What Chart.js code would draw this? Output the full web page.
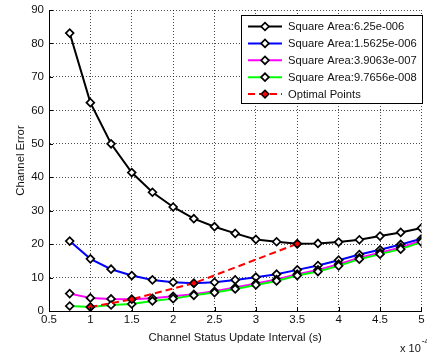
<!DOCTYPE html>
<html>
<head>
<meta charset="utf-8">
<script src="https://cdn.jsdelivr.net/npm/chart.js@4/dist/chart.umd.min.js"></script>
<style>
  html, body { margin: 0; padding: 0; background: #fff; overflow: hidden; }
  #wrap { width: 427px; height: 352px; }
</style>
</head>
<body>
<div id="wrap"><canvas id="c" width="427" height="352"></canvas></div>
<script>
// Channel status update interval (x 10^-4 s)
const intervals = [0.75, 1, 1.25, 1.5, 1.75, 2, 2.25, 2.5, 2.75, 3, 3.25, 3.5, 3.75, 4, 4.25, 4.5, 4.75, 5];

// Channel error per square area
const errArea625e6   = [83.1, 62.3, 50.0, 41.4, 35.5, 31.1, 27.6, 25.2, 23.2, 21.4, 20.7, 20.1, 20.2, 20.6, 21.3, 22.4, 23.5, 24.8];
const errArea15625e6 = [20.9, 15.6, 12.5, 10.6, 9.3, 8.6, 8.3, 8.6, 9.3, 10.1, 11.0, 12.3, 13.6, 15.2, 16.9, 18.3, 19.9, 21.6];
const errArea39063e7 = [5.2, 3.9, 3.6, 3.5, 3.8, 4.4, 5.0, 5.9, 7.0, 8.2, 9.4, 11.0, 12.3, 14.0, 15.9, 17.4, 19.0, 21.0];
const errArea97656e8 = [1.5, 1.2, 1.8, 2.1, 3.0, 3.7, 4.7, 5.5, 6.6, 7.8, 9.0, 10.6, 11.8, 13.5, 15.5, 17.0, 18.5, 20.6];

const seriesNames = [
  'Square Area:6.25e-006',
  'Square Area:1.5625e-006',
  'Square Area:3.9063e-007',
  'Square Area:9.7656e-008',
  'Optimal Points'
];

// Minimum-error interval of each curve
const optimalX = [1, 1.5, 2.25, 3.5];
const optimalY = [1.2, 3.5, 8.3, 20.1];

const xTickLabels = ['0.5', '1', '1.5', '2', '2.5', '3', '3.5', '4', '4.5', '5'];
const yTickLabels = ['0', '10', '20', '30', '40', '50', '60', '70', '80', '90'];
const xExponent = '-4';

// Prefer a narrow sans face when it is installed
function hasFont(name) {
  const c = document.createElement('canvas').getContext('2d');
  const s = 'Square Area 0123456789';
  c.font = '20px monospace';
  const a = c.measureText(s).width;
  c.font = '20px "' + name + '", monospace';
  return Math.abs(c.measureText(s).width - a) > 0.5;
}
const narrow = hasFont('Liberation Sans Narrow');
const FAMILY = narrow ? '"Liberation Sans Narrow", "Liberation Sans", Arial, sans-serif'
                      : '"Liberation Sans", Arial, sans-serif';
const SZ = narrow ? { tick: 12.5, title: 13.5, legend: 13.5, exp: 12, sup: 9 }
                  : { tick: 11.5, title: 11.3, legend: 11.2, exp: 11, sup: 8.5 };
const TEXT = '#111';

function curve(label, ys, color, order) {
  return {
    label,
    data: intervals.map((x, i) => ({ x, y: ys[i] })),
    borderColor: color,
    backgroundColor: color,
    borderWidth: 2,
    tension: 0,
    pointStyle: 'rectRot',
    pointRadius: 3.9,
    pointHoverRadius: 3.9,
    pointBorderWidth: 1.7,
    pointBackgroundColor: '#fff',
    pointBorderColor: '#000',
    order
  };
}

const datasets = [
  curve(seriesNames[0], errArea625e6, '#000000', 5),
  curve(seriesNames[1], errArea15625e6, '#0000ff', 4),
  curve(seriesNames[2], errArea39063e7, '#ff00ff', 3),
  curve(seriesNames[3], errArea97656e8, '#00ff00', 2),
  {
    label: seriesNames[4],
    data: optimalX.map((x, i) => ({ x, y: optimalY[i] })),
    borderColor: '#ff0000',
    backgroundColor: '#ff0000',
    borderWidth: 2,
    borderDash: [7, 4],
    tension: 0,
    pointStyle: 'rectRot',
    pointRadius: 3.9,
    pointHoverRadius: 3.9,
    pointBorderWidth: 1.5,
    pointBackgroundColor: '#ff0000',
    pointBorderColor: '#000',
    order: 1
  }
];

function diamond(ctx, x, y, r, fill, stroke, lw) {
  ctx.beginPath();
  ctx.moveTo(x - r, y);
  ctx.lineTo(x, y - r);
  ctx.lineTo(x + r, y);
  ctx.lineTo(x, y + r);
  ctx.closePath();
  ctx.fillStyle = fill;
  ctx.fill();
  ctx.lineWidth = lw;
  ctx.strokeStyle = stroke;
  ctx.stroke();
}

// Small inward tick marks on the left and bottom axes
const innerTicks = {
  id: 'innerTicks',
  afterDatasetsDraw(chart) {
    const { ctx, chartArea } = chart;
    const xs = chart.scales.x, ys = chart.scales.y;
    ctx.save();
    ctx.strokeStyle = '#000';
    ctx.lineWidth = 1;
    ctx.beginPath();
    xs.ticks.forEach(t => {
      const px = Math.round(xs.getPixelForValue(t.value)) + 0.5;
      ctx.moveTo(px, chartArea.bottom);
      ctx.lineTo(px, chartArea.bottom - 4);
    });
    ys.ticks.forEach(t => {
      const py = Math.round(ys.getPixelForValue(t.value)) + 0.5;
      ctx.moveTo(chartArea.left, py);
      ctx.lineTo(chartArea.left + 4, py);
    });
    ctx.stroke();
    ctx.restore();
  }
};

// Boxed legend inside the plot, top right
const boxLegend = {
  id: 'boxLegend',
  afterDraw(chart) {
    const { ctx } = chart;
    const bx = 241.5, by = 15.5, bw = 181, bh = 88;
    ctx.save();
    ctx.fillStyle = '#fff';
    ctx.fillRect(bx, by, bw, bh);
    ctx.strokeStyle = '#000';
    ctx.lineWidth = 1;
    ctx.strokeRect(bx, by, bw, bh);
    chart.data.datasets.forEach((ds, i) => {
      const cy = 26.5 + i * 16.9;
      ctx.save();
      ctx.strokeStyle = ds.borderColor;
      ctx.lineWidth = 2;
      ctx.setLineDash(ds.borderDash || []);
      ctx.beginPath();
      ctx.moveTo(248, cy);
      ctx.lineTo(282, cy);
      ctx.stroke();
      ctx.restore();
      diamond(ctx, 265, cy, ds.pointRadius, ds.pointBackgroundColor, ds.pointBorderColor, ds.pointBorderWidth);
      ctx.fillStyle = TEXT;
      ctx.font = SZ.legend + 'px ' + FAMILY;
      ctx.textAlign = 'left';
      ctx.textBaseline = 'middle';
      ctx.fillText(ds.label, 288, cy + 0.5);
    });
    ctx.restore();
  }
};

// Power-of-ten multiplier under the x axis
const axisExponent = {
  id: 'axisExponent',
  afterDraw(chart) {
    const { ctx } = chart;
    ctx.save();
    ctx.fillStyle = TEXT;
    ctx.textAlign = 'left';
    ctx.textBaseline = 'alphabetic';
    ctx.font = SZ.exp + 'px ' + FAMILY;
    ctx.fillText('x 10', 400, 352);
    const w = ctx.measureText('x 10').width;
    ctx.font = SZ.sup + 'px ' + FAMILY;
    ctx.fillText(xExponent, 400 + w + 1, 344);
    ctx.restore();
  }
};

const labelFor = (labels) => (v) => labels.find(t => Math.abs(parseFloat(t) - v) < 1e-9) ?? '';

new Chart(document.getElementById('c'), {
  type: 'line',
  data: { datasets },
  options: {
    responsive: false,
    devicePixelRatio: 1,
    animation: false,
    events: [],
    layout: { padding: { top: 10, right: 0, bottom: 0, left: 0 } },
    plugins: { legend: { display: false }, tooltip: { enabled: false } },
    scales: {
      x: {
        type: 'linear',
        min: 0.5,
        max: 5,
        ticks: {
          stepSize: 0.5,
          autoSkip: false,
          maxRotation: 0,
          padding: 2,
          color: TEXT,
          font: { family: FAMILY, size: SZ.tick },
          callback: labelFor(xTickLabels)
        },
        grid: { color: 'rgba(0,0,0,0.7)', lineWidth: 1, drawTicks: false },
        border: { display: true, color: '#000', width: 1, dash: [1, 2] },
        title: {
          display: true,
          text: 'Channel Status Update Interval (s)',
          color: TEXT,
          font: { family: FAMILY, size: SZ.title },
          padding: { top: 0, bottom: 7 }
        },
        afterFit(s) { s.height = 41; s.paddingLeft = 0; s.paddingRight = 0; }
      },
      y: {
        type: 'linear',
        min: 0,
        max: 90,
        ticks: {
          stepSize: 10,
          padding: 5,
          color: TEXT,
          font: { family: FAMILY, size: SZ.tick },
          callback: labelFor(yTickLabels)
        },
        grid: { color: 'rgba(0,0,0,0.7)', lineWidth: 1, drawTicks: false },
        border: { display: true, color: '#000', width: 1, dash: [1, 2] },
        title: {
          display: true,
          text: 'Channel Error',
          color: TEXT,
          font: { family: FAMILY, size: SZ.title },
          padding: { top: 14, bottom: 0 }
        },
        afterFit(s) { s.width = 49; s.paddingTop = 0; s.paddingBottom = 0; }
      }
    }
  },
  plugins: [innerTicks, boxLegend, axisExponent]
});
</script>
</body>
</html>
